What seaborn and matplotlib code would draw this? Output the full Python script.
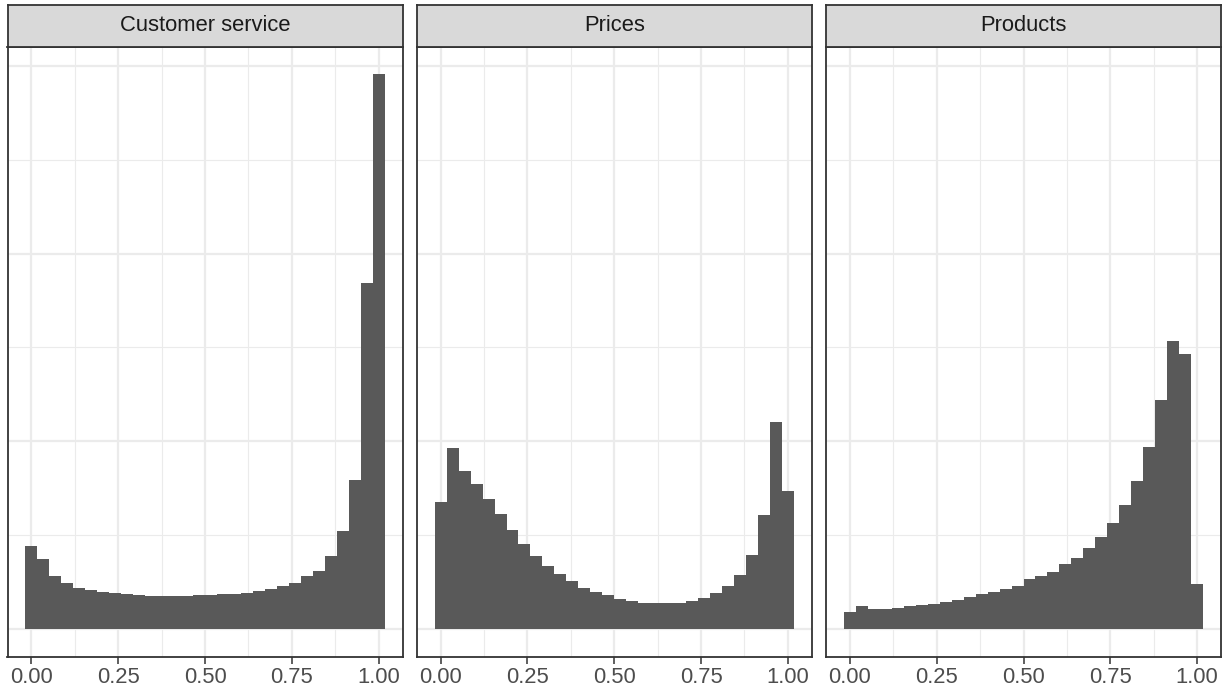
import numpy as np
import pandas as pd
import matplotlib
matplotlib.use("Agg")
import matplotlib.pyplot as plt
from matplotlib.ticker import FixedLocator, MultipleLocator
import seaborn as sns

sns.set_theme(style="white")
plt.rcParams['font.family'] = ['Liberation Sans', 'DejaVu Sans']

# ---- data (bar heights, 30 bins over 0..1) ----
facets = ["Customer service", "Prices", "Products"]

customer_service = [0.88, 0.75, 0.56, 0.49, 0.44, 0.42, 0.39, 0.385, 0.375, 0.365,
                    0.355, 0.355, 0.355, 0.355, 0.365, 0.365, 0.378, 0.378, 0.388, 0.41,
                    0.43, 0.463, 0.495, 0.56, 0.62, 0.78, 1.04, 1.59, 3.69, 5.91]
prices = [1.35, 1.93, 1.68, 1.54, 1.39, 1.22, 1.06, 0.91, 0.78, 0.67,
          0.59, 0.51, 0.44, 0.39, 0.36, 0.32, 0.30, 0.28, 0.28, 0.28,
          0.28, 0.30, 0.33, 0.38, 0.46, 0.58, 0.79, 1.21, 2.21, 1.47]
products = [0.185, 0.24, 0.21, 0.21, 0.22, 0.24, 0.26, 0.27, 0.29, 0.31,
            0.345, 0.37, 0.39, 0.43, 0.46, 0.53, 0.56, 0.61, 0.69, 0.76,
            0.86, 0.98, 1.13, 1.32, 1.58, 1.94, 2.44, 3.07, 2.93, 0.48]

x_ticks = [0.0, 0.25, 0.5, 0.75, 1.0]
x_tick_labels = ["0.00", "0.25", "0.50", "0.75", "1.00"]

series = {"Customer service": customer_service, "Prices": prices, "Products": products}

n_bins = len(customer_service)
centers = np.linspace(0, 1, n_bins)
bw = centers[1] - centers[0]
bin_lo, bin_hi = float(centers[0] - bw / 2), float(centers[-1] + bw / 2)

rows = []
for name in facets:
    for c, h in zip(centers, series[name]):
        rows.append({"facet": name, "score": float(c), "height": float(h)})
df = pd.DataFrame(rows)

# ---- layout ----
W, H = 1230, 692
fig = plt.figure(figsize=(W / 100, H / 100), dpi=100)
fig.patch.set_facecolor("white")

panel_lefts = [7.5, 416.75, 826.0]
panel_w = 395.0
panel_top, panel_bottom = 46.7, 656.7
strip_top = 5.0

ymax = df["height"].max()
xr = bin_hi - bin_lo

for i, name in enumerate(facets):
    l = panel_lefts[i] / W
    w = panel_w / W
    ax = fig.add_axes([l, 1 - panel_bottom / H, w, (panel_bottom - panel_top) / H])
    ax.set_facecolor("white")
    ax.set_axisbelow(True)
    sub = df[df["facet"] == name]
    sns.histplot(data=sub, x="score", weights="height", bins=n_bins,
                 binrange=(bin_lo, bin_hi), stat="count",
                 color="#595959", alpha=1, edgecolor="none", linewidth=0, ax=ax)
    ax.set_xlim(bin_lo - 0.05 * xr, bin_hi + 0.05 * xr)
    ax.set_ylim(-0.05 * ymax, 1.05 * ymax)

    ax.xaxis.set_major_locator(FixedLocator(x_ticks))
    ax.set_xticklabels(x_tick_labels)
    ax.xaxis.set_minor_locator(FixedLocator([0.125, 0.375, 0.625, 0.875]))
    ax.yaxis.set_major_locator(MultipleLocator(2))
    ax.yaxis.set_minor_locator(MultipleLocator(1))
    ax.grid(which="major", color="#EBEBEB", linewidth=1.6)
    ax.grid(which="minor", color="#EBEBEB", linewidth=0.8)
    ax.set_yticklabels([])
    ax.set_xlabel("")
    ax.set_ylabel("")
    ax.tick_params(axis="y", which="both", left=False, length=0)
    ax.tick_params(axis="x", which="major", bottom=True, length=4.7, width=1.1,
                   color="#333333", labelsize=15.8, labelcolor="#4D4D4D", pad=3)
    ax.tick_params(axis="x", which="minor", bottom=False, length=0)
    for s in ax.spines.values():
        s.set_visible(True)
        s.set_color("#333333")
        s.set_linewidth(1.3)

    sax = fig.add_axes([l, 1 - panel_top / H, w, (panel_top - strip_top) / H])
    sax.set_facecolor("#D9D9D9")
    sax.set_xticks([])
    sax.set_yticks([])
    for s in sax.spines.values():
        s.set_visible(True)
        s.set_color("#333333")
        s.set_linewidth(1.3)
    sax.text(0.5, 0.5, name, ha="center", va="center", fontsize=15.8,
             color="#1A1A1A", transform=sax.transAxes)

fig.savefig("out.png", dpi=100)
